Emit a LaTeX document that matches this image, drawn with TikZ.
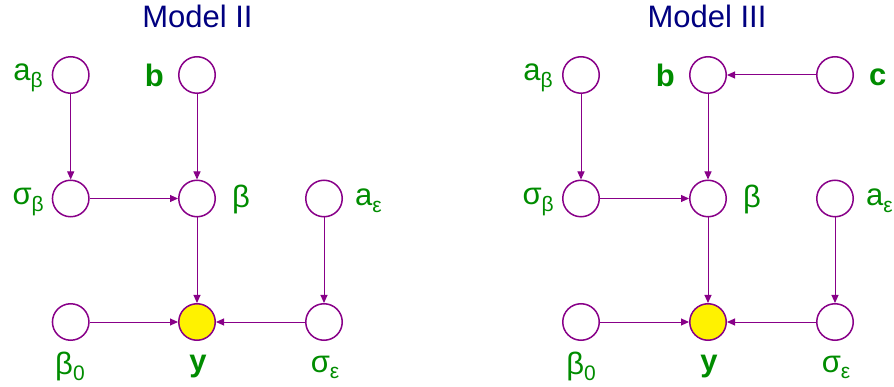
\documentclass[tikz,border=0pt]{standalone}
\usepackage{fontspec}
\setmainfont{Liberation Sans}
\usetikzlibrary{arrows.meta}
\definecolor{nodepurple}{RGB}{136,0,136}
\definecolor{labgreen}{RGB}{0,140,0}
\definecolor{titleblue}{RGB}{0,0,128}
\newcommand{\mysub}[1]{\raisebox{-0.2em}{\fontsize{21}{22}\selectfont #1}}
\tikzset{
  var/.style={circle, draw=nodepurple, line width=1.5pt, minimum size=36.5pt, inner sep=0pt},
  obs/.style={var, fill=yellow},
  lab/.style={text=labgreen, font=\fontsize{31}{34}\selectfont, inner sep=0pt},
  blab/.style={lab, font=\fontsize{31}{34}\selectfont\bfseries},
  ttl/.style={text=titleblue, font=\fontsize{31}{34}\selectfont, inner sep=0pt, anchor=base},
  edge/.style={draw=nodepurple, line width=1pt, -{Triangle[length=8pt,width=7pt]}}
}
\begin{document}
\begin{tikzpicture}[x=1pt,y=-1pt]
\useasboundingbox (0,0) rectangle (894,387);
% ---------- Model II ----------
\node[ttl] (t2) at (197.5,28) {Model II};
\node[var] (aB) at (70.7,75) {};
\node[var] (b) at (197,75) {};
\node[var] (sB) at (70.7,198.5) {};
\node[var] (beta) at (197,198.5) {};
\node[var] (aE) at (324,198.5) {};
\node[var] (b0) at (70.7,322) {};
\node[obs] (y) at (197,322) {};
\node[var] (sE) at (324,322) {};
\node[lab, anchor=base east] (laB) at (43,81) {a\mysub{β}};
\node[blab, anchor=base east] (lb) at (164,87) {b};
\node[lab, anchor=base east] (lsB) at (44,205) {σ\mysub{β}};
\node[lab, anchor=base west] (lbeta) at (232,208) {β};
\node[lab, anchor=base west] (laE) at (355,206) {a\mysub{ε}};
\node[lab, anchor=base] (lb0) at (70,374) {β\mysub{0}};
\node[blab, anchor=base] (ly) at (198,371) {y};
\node[lab, anchor=base] (lsE) at (325,372) {σ\mysub{ε}};
\draw[edge] (aB) -- (sB);
\draw[edge] (b) -- (beta);
\draw[edge] (sB) -- (beta);
\draw[edge] (beta) -- (y);
\draw[edge] (aE) -- (sE);
\draw[edge] (b0) -- (y);
\draw[edge] (sE) -- (y);
% ---------- Model III ----------
\node[ttl] (t3) at (707,28) {Model III};
\node[var] (aB3) at (581,75) {};
\node[var] (b3) at (708,75) {};
\node[var] (c3) at (835,75) {};
\node[var] (sB3) at (581,198.5) {};
\node[var] (beta3) at (708,198.5) {};
\node[var] (aE3) at (835,198.5) {};
\node[var] (b03) at (581,322) {};
\node[obs] (y3) at (708,322) {};
\node[var] (sE3) at (835,322) {};
\node[lab, anchor=base east] (laB3) at (553,81) {a\mysub{β}};
\node[blab, anchor=base east] (lb3) at (675,87) {b};
\node[blab, anchor=base west] (lc3) at (869,86) {c};
\node[lab, anchor=base east] (lsB3) at (554,205) {σ\mysub{β}};
\node[lab, anchor=base west] (lbeta3) at (743,208) {β};
\node[lab, anchor=base west] (laE3) at (866,206) {a\mysub{ε}};
\node[lab, anchor=base] (lb03) at (581,374) {β\mysub{0}};
\node[blab, anchor=base] (ly3) at (709,371) {y};
\node[lab, anchor=base] (lsE3) at (836,372) {σ\mysub{ε}};
\draw[edge] (c3) -- (b3);
\draw[edge] (aB3) -- (sB3);
\draw[edge] (b3) -- (beta3);
\draw[edge] (sB3) -- (beta3);
\draw[edge] (beta3) -- (y3);
\draw[edge] (aE3) -- (sE3);
\draw[edge] (b03) -- (y3);
\draw[edge] (sE3) -- (y3);
\end{tikzpicture}
\end{document}
